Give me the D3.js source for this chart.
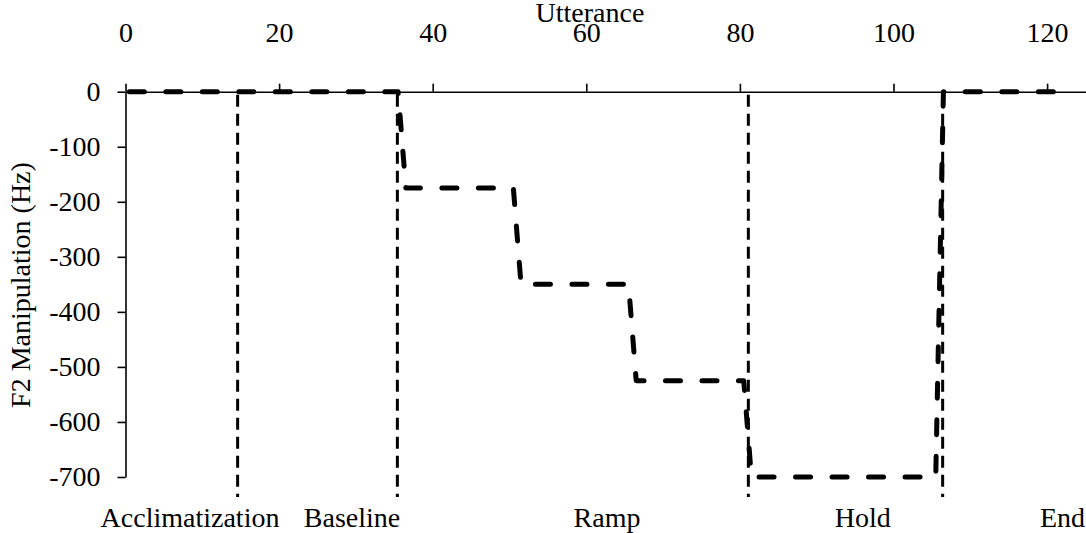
<!DOCTYPE html>
<html>
<head>
<meta charset="utf-8">
<script src="https://cdn.jsdelivr.net/npm/d3@7"></script>
<style>
  html, body { margin: 0; padding: 0; background: #fff; }
  svg { display: block; }
  text { font-family: "Liberation Serif", "Times New Roman", serif; fill: #000; }
</style>
</head>
<body>
<svg id="chart" width="1086" height="533"></svg>
<script>
// Axis ticks
const xTicks = [0, 20, 40, 60, 80, 100, 120];
const yTicks = [0, -100, -200, -300, -400, -500, -600, -700];

// F2 perturbation applied on each utterance (Hz), utterances 1..123
const f2Shift = [
  // acclimatization + baseline (1-36)
  0, 0, 0, 0, 0, 0, 0, 0, 0, 0, 0, 0, 0, 0, 0, 0, 0, 0,
  0, 0, 0, 0, 0, 0, 0, 0, 0, 0, 0, 0, 0, 0, 0, 0, 0, 0,
  // ramp step 1 (37-51)
  -175, -175, -175, -175, -175, -175, -175, -175, -175, -175, -175, -175, -175, -175, -175,
  // ramp step 2 (52-66)
  -350, -350, -350, -350, -350, -350, -350, -350, -350, -350, -350, -350, -350, -350, -350,
  // ramp step 3 (67-81)
  -525, -525, -525, -525, -525, -525, -525, -525, -525, -525, -525, -525, -525, -525, -525,
  // hold (82-106)
  -700, -700, -700, -700, -700, -700, -700, -700, -700, -700, -700, -700, -700,
  -700, -700, -700, -700, -700, -700, -700, -700, -700, -700, -700, -700,
  // end (107-123)
  0, 0, 0, 0, 0, 0, 0, 0, 0, 0, 0, 0, 0, 0, 0, 0, 0
];

// Phase boundaries (utterance units) and phase names with label anchors
const phaseBounds = [14.6, 35.4, 81.1, 106.4];
const phaseNames = ["Acclimatization", "Baseline", "Ramp", "Hold", "End"];
const phaseLabelAt = [8.4, 29.5, 62.7, 96.0, 122.0];

const svg = d3.select("#chart");
const plotLeft = 125.5, plotRight = 1085.5, plotTop = 91.7, plotBottom = 477;

const x = d3.scaleLinear().domain([0, 125]).range([plotLeft, plotRight]);
const y = d3.scaleLinear().domain([0, -700]).range([plotTop, plotBottom]);

const FS = 28;

// Phase boundary lines
svg.append("g")
  .selectAll("line")
  .data(phaseBounds)
  .join("line")
  .attr("x1", d => x(d)).attr("x2", d => x(d))
  .attr("y1", y(0) + 3).attr("y2", 497)
  .attr("stroke", "#000")
  .attr("stroke-width", 3)
  .attr("stroke-dasharray", "12,7");

// Perturbation schedule; each utterance sits at the centre of its slot
const pts = f2Shift.map((v, i) => ({ u: i + 1, v }));
const line = d3.line().x(d => x(d.u - 0.5)).y(d => y(d.v));
svg.append("path")
  .datum(pts)
  .attr("d", line)
  .attr("fill", "none")
  .attr("stroke", "#000")
  .attr("stroke-width", 5)
  .attr("stroke-linecap", "round")
  .attr("stroke-linejoin", "round")
  .attr("stroke-dasharray", "15,21.5");

// Top x axis
const xAxis = svg.append("g")
  .attr("transform", `translate(0,${plotTop})`)
  .call(d3.axisTop(x).tickValues(xTicks).tickSize(8).tickSizeOuter(0).tickPadding(42)
    .tickFormat(d => String(d)));
xAxis.select(".domain").attr("stroke-width", 1.6);
xAxis.selectAll(".tick line").attr("stroke-width", 1.6);
xAxis.selectAll(".tick text").attr("font-size", FS).attr("font-family", "Liberation Serif");

// Left y axis
const yAxis = svg.append("g")
  .attr("transform", `translate(${plotLeft},0)`)
  .call(d3.axisLeft(y).tickValues(yTicks).tickSize(8).tickSizeOuter(0).tickPadding(17)
    .tickFormat(d => String(d)));
yAxis.select(".domain").attr("stroke-width", 1.6);
yAxis.selectAll(".tick line").attr("stroke-width", 1.6);
yAxis.selectAll(".tick text").attr("font-size", FS).attr("font-family", "Liberation Serif");

// Axis titles
svg.append("text")
  .attr("x", 590).attr("y", 22)
  .attr("text-anchor", "middle")
  .attr("font-size", FS)
  .text("Utterance");

svg.append("text")
  .attr("transform", `translate(30,285) rotate(-90)`)
  .attr("text-anchor", "middle")
  .attr("font-size", FS)
  .text("F2 Manipulation (Hz)");

// Phase names under the plot
svg.append("g")
  .selectAll("text")
  .data(phaseNames)
  .join("text")
  .attr("x", (d, i) => x(phaseLabelAt[i]))
  .attr("y", 527)
  .attr("text-anchor", "middle")
  .attr("font-size", FS)
  .text(d => d);
</script>
</body>
</html>
